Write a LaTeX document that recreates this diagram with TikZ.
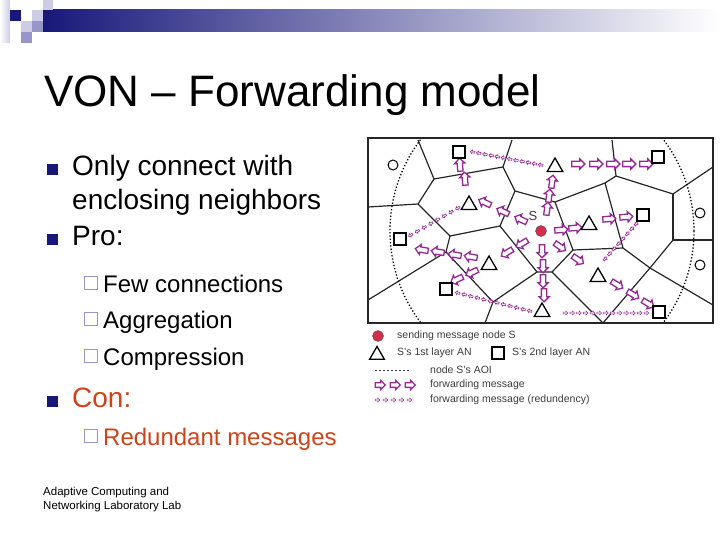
\documentclass[tikz,border=0pt]{standalone}
\usepackage{fontspec}
\setmainfont{Liberation Sans}
\usetikzlibrary{shapes.arrows}
\usetikzlibrary{shapes.geometric}
\usetikzlibrary{calc}
\definecolor{slidenavy}{RGB}{24,24,122}
\definecolor{lavlight}{RGB}{204,204,230}
\definecolor{lavmid}{RGB}{150,150,200}
\definecolor{conred}{RGB}{208,66,26}
\definecolor{fwdpurple}{RGB}{150,40,150}
\definecolor{sendred}{RGB}{215,45,75}
\definecolor{legendgrey}{RGB}{60,60,60}
\tikzset{
	peer/.style={draw, line width=1.3pt, inner sep=0pt},
	firstlayer/.style={peer, regular polygon, regular polygon sides=3, minimum size=18pt},
	secondlayer/.style={peer, rectangle, minimum size=12pt},
	outsider/.style={draw, circle, line width=1pt, minimum size=10pt, inner sep=0pt},
	sender/.style={circle, draw=black!70, fill=sendred, minimum size=11pt, inner sep=0pt},
	fwd/.style={single arrow, draw=fwdpurple, fill=white, line width=1.3pt,
		minimum height=13pt, inner sep=2pt, single arrow head extend=2.5pt},
	redund/.style={single arrow, draw=fwdpurple, fill=white, line width=0.6pt,
		minimum height=4.6pt, inner sep=0.6pt, single arrow head extend=1pt},
	voro/.style={line width=1.2pt, black!85},
	aoi/.style={dotted, line width=1.3pt},
	lvlone/.style={anchor=base west, inner sep=0pt, font=\fontsize{28}{34}\selectfont},
	lvltwo/.style={anchor=base west, inner sep=0pt, font=\fontsize{24}{29}\selectfont},
	bulletsq/.style={fill=slidenavy, minimum size=11pt, inner sep=0pt},
	subbox/.style={draw=lavmid, line width=0.9pt, minimum size=13pt, inner sep=0pt},
	legendtext/.style={anchor=west, inner sep=0pt, text=legendgrey, font=\fontsize{10.5}{12}\selectfont}
}
\newcommand{\fwdArrow}[4] {
	\node[fwd, rotate=#4] (#1) at (#2,#3) {};
}
\newcommand{\redundChain}[7] {
	\foreach \k in {1,...,#6} {
		\node[redund, rotate=#7] (#1\k) at ($(#2,#3)!{(\k-1)/(#6-1)}!(#4,#5)$) {};
	}
}
\newcommand{\mainItem}[4] {
	\node[bulletsq] (#1b) at (52.5,#2-6) {};
	\node[lvlone, text=#4] (#1) at (72,#2) {#3};
}
\newcommand{\subItem}[4] {
	\node[subbox] (#1b) at (90.5,#2-9) {};
	\node[lvltwo, text=#4] (#1) at (103,#2) {#3};
}
\begin{document}
\begin{tikzpicture}[x=1pt, y=-1pt]
		\useasboundingbox (0,0) rectangle (720,540);

		% header bar and corner squares
		\shade[left color=slidenavy, right color=white] (43,10) rectangle (720,32);
		\shade[left color=white, right color=lavlight] (0,0) rectangle (10,43);
		\fill[slidenavy] (10,10) rectangle (21,21);
		\fill[lavlight] (43,0) rectangle (53,10);
		\fill[lavlight] (32,10) rectangle (43,21);
		\fill[lavlight] (21,21) rectangle (32,32);
		\fill[lavmid] (32,21) rectangle (43,32);
		\fill[lavmid] (21,32) rectangle (32,43);

		% title
		\node[anchor=base west, inner sep=0pt, font=\fontsize{44}{50}\selectfont] (title) at (44,107) {VON – Forwarding model};

		% bullets
		\mainItem{only}{176}{Only connect with}{black}
		\node[lvlone] (only2) at (72,210) {enclosing neighbors};
		\mainItem{pro}{245}{Pro:}{black}
		\subItem{few}{292}{Few connections}{black}
		\subItem{aggr}{328}{Aggregation}{black}
		\subItem{compr}{365}{Compression}{black}
		\mainItem{con}{407}{Con:}{conred}
		\subItem{redun}{445}{Redundant messages}{conred}

		% footer
		\node[anchor=base west, inner sep=0pt, align=left, font=\fontsize{11.5}{14}\selectfont] (footer) at (43,509) {Adaptive Computing and\\Networking Laboratory Lab};

		% Voronoi cells
		\coordinate (v1) at (418,140);
		\coordinate (v2) at (434,179);
		\coordinate (v3) at (503,167);
		\coordinate (v4) at (512,140);
		\coordinate (v5) at (515,191);
		\coordinate (v6) at (418,204);
		\coordinate (v7) at (368,207);
		\coordinate (v8) at (450,236);
		\coordinate (v9) at (500,226);
		\coordinate (v10) at (555,202);
		\coordinate (v11) at (605,183);
		\coordinate (v12) at (616,176);
		\coordinate (v13) at (612,140);
		\coordinate (v14) at (673,194);
		\coordinate (v15) at (713,167);
		\coordinate (v16) at (673,240);
		\coordinate (v17) at (713,240);
		\coordinate (v18) at (650,268);
		\coordinate (v19) at (713,305);
		\coordinate (v20) at (603,323);
		\coordinate (v21) at (623,248);
		\coordinate (v22) at (573,250);
		\coordinate (v23) at (537,272);
		\coordinate (v24) at (552,272);
		\coordinate (v25) at (446,252);
		\coordinate (v26) at (368,300);
		\coordinate (v27) at (493,302);
		\coordinate (v28) at (485,323);
		\draw[voro] (v1) -- (v2) -- (v3) -- (v4);
		\draw[voro] (v2) -- (v6) -- (v7);
		\draw[voro] (v3) -- (v5) -- (v10) -- (v11) -- (v12) -- (v13);
		\draw[voro] (v5) -- (v9) -- (v23) -- (v24) -- (v20);
		\draw[voro] (v6) -- (v8) -- (v9);
		\draw[voro] (v8) -- (v25) -- (v26);
		\draw[voro] (v25) -- (v27) -- (v28);
		\draw[voro] (v27) -- (v23);
		\draw[voro] (v10) -- (v22) -- (v24);
		\draw[voro] (v11) -- (v21) -- (v22);
		\draw[voro] (v12) -- (v14) -- (v15);
		\draw[voro] (v14) -- (v16) -- (v17);
		\draw[voro] (v16) -- (v18) -- (v19);
		\draw[voro] (v21) -- (v18) -- (v20);

		% AOI of S
		\begin{scope}
			\clip (368,138) rectangle (713,323);
			\draw[aoi] (542,231) circle [radius=152];
		\end{scope}
		\draw[line width=2.2pt, black!85] (368,138) rectangle (713,323);

		% redundant forwarding
		\redundChain{ra}{541}{165}{473}{152}{12}{170}
		\redundChain{rb}{458}{208}{411}{235}{8}{210}
		\redundChain{rc}{530}{311}{458}{293}{12}{165}
		\redundChain{rd}{565}{313}{646}{313}{13}{0}
		\redundChain{re}{605}{259}{636}{224}{8}{48}

		% forwarding
		\fwdArrow{fa1}{547}{210}{82}
		\fwdArrow{fa2}{549}{197}{82}
		\fwdArrow{fa3}{552}{183}{82}
		\fwdArrow{fb1}{577}{164}{0}
		\fwdArrow{fb2}{595}{164}{0}
		\fwdArrow{fb3}{612}{164}{0}
		\fwdArrow{fb4}{628}{164}{0}
		\fwdArrow{fb5}{645}{164}{0}
		\fwdArrow{fc1}{522}{220}{155}
		\fwdArrow{fc2}{504}{212}{155}
		\fwdArrow{fc3}{486}{203}{155}
		\fwdArrow{fd1}{465}{180}{95}
		\fwdArrow{fd2}{460}{166}{95}
		\fwdArrow{fe1}{560}{230}{5}
		\fwdArrow{fe2}{574}{228}{5}
		\fwdArrow{fe3}{608}{219}{5}
		\fwdArrow{fe4}{625}{217}{5}
		\fwdArrow{ff1}{523}{243}{211}
		\fwdArrow{ff2}{508}{252}{211}
		\fwdArrow{ff3}{472}{257}{170}
		\fwdArrow{ff4}{456}{255}{170}
		\fwdArrow{ff5}{439}{252}{170}
		\fwdArrow{ff6}{423}{250}{170}
		\fwdArrow{ff7}{473}{272}{205}
		\fwdArrow{ff8}{458}{279}{205}
		\fwdArrow{fg1}{542}{250}{270}
		\fwdArrow{fg2}{543}{265}{270}
		\fwdArrow{fg3}{543}{280}{270}
		\fwdArrow{fg4}{544}{294}{270}
		\fwdArrow{fh1}{559}{246}{325}
		\fwdArrow{fh2}{577}{259}{325}
		\fwdArrow{fh3}{616}{284}{329}
		\fwdArrow{fh4}{632}{294}{329}
		\fwdArrow{fh5}{647}{303}{329}

		% nodes
		\node[outsider] (o1) at (393,165) {};
		\node[outsider] (o2) at (700,213) {};
		\node[outsider] (o3) at (700,265) {};
		\node[secondlayer] (q1) at (459,152) {};
		\node[secondlayer] (q2) at (658,157) {};
		\node[secondlayer] (q3) at (643,215) {};
		\node[secondlayer] (q4) at (400,239) {};
		\node[secondlayer] (q5) at (446,289) {};
		\node[secondlayer] (q6) at (659,312) {};
		\node[firstlayer] (t1) at (555,167) {};
		\node[firstlayer] (t2) at (469,205) {};
		\node[firstlayer] (t3) at (589,225) {};
		\node[firstlayer] (t4) at (489,265) {};
		\node[firstlayer] (t5) at (598,277) {};
		\node[firstlayer] (t6) at (542,312) {};
		\node[sender] (S) at (541,231) {};
		\node[text=legendgrey, font=\fontsize{13}{15}\selectfont] (Slabel) at (533,216) {S};

		% legend
		\node[sender] (ls) at (378,336) {};
		\node[legendtext] (lstext) at (397,336) {sending message node S};
		\node[firstlayer, minimum size=17pt] (lt) at (377,355) {};
		\node[legendtext] (lttext) at (397,353) {S's 1st layer AN};
		\node[secondlayer] (lq) at (498,353) {};
		\node[legendtext] (lqtext) at (512,353) {S's 2nd layer AN};
		\coordinate (la) at (375,370);
		\coordinate (lb) at (410,370);
		\draw[dash pattern=on 2pt off 2pt, line width=0.9pt, legendgrey] (la) -- (lb);
		\node[legendtext] (latext) at (430,370) {node S's AOI};
		\node[fwd, minimum height=10pt, inner sep=1.7pt, single arrow head extend=2pt] (lf1) at (379,385) {};
		\node[fwd, minimum height=10pt, inner sep=1.7pt, single arrow head extend=2pt] (lf2) at (394,385) {};
		\node[fwd, minimum height=10pt, inner sep=1.7pt, single arrow head extend=2pt] (lf3) at (409,385) {};
		\node[legendtext] (lftext) at (430,385) {forwarding message};
		\redundChain{lr}{377}{400}{409}{400}{5}{0}
		\node[legendtext] (lrtext) at (430,400) {forwarding message (redundency)};

	\end{tikzpicture}
\end{document}
